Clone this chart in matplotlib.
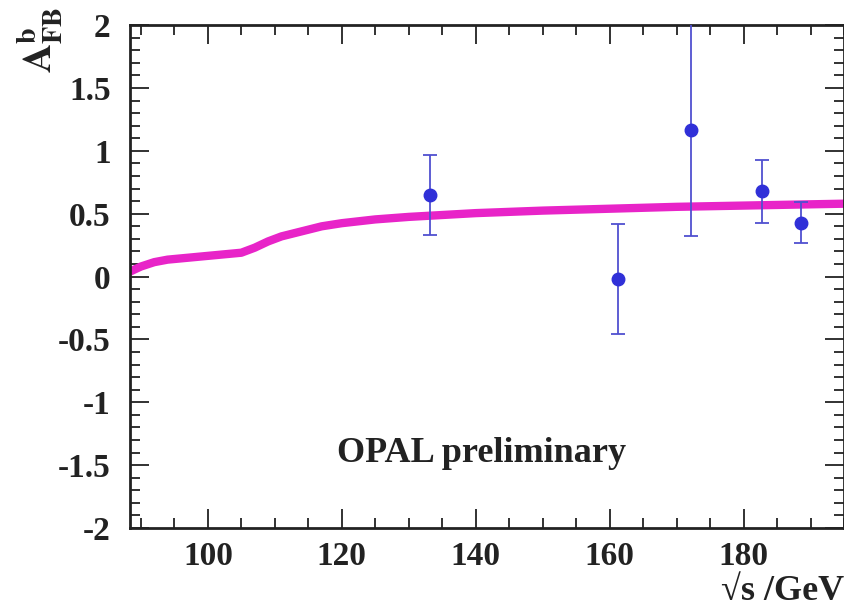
import numpy as np
import matplotlib
matplotlib.use("Agg")
import matplotlib.pyplot as plt
from matplotlib.ticker import MultipleLocator, FuncFormatter

plt.rcParams['font.family'] = 'Liberation Serif'
plt.rcParams['font.weight'] = 'bold'
plt.rcParams['mathtext.fontset'] = 'stix'
plt.rcParams['axes.unicode_minus'] = False

# Measured b-quark forward-backward asymmetry
sqrt_s = [133.2, 161.3, 172.1, 182.7, 188.6]
afb = [0.65, -0.02, 1.17, 0.68, 0.43]
afb_err = [0.32, 0.44, 0.85, 0.25, 0.16]

# Standard Model prediction
sm_x = [88.4, 90, 92, 94, 97, 100, 103, 105, 107, 109, 111, 114, 117, 120,
        125, 130, 140, 150, 160, 170, 180, 190, 195]
sm_y = [0.04, 0.08, 0.115, 0.135, 0.15, 0.165, 0.18, 0.19, 0.23, 0.28, 0.32,
        0.36, 0.40, 0.425, 0.455, 0.475, 0.505, 0.525, 0.54, 0.555, 0.565,
        0.575, 0.58]

fig = plt.figure(figsize=(8.45, 6.14), dpi=100)
ax = fig.add_axes([0.154, 0.140, 0.845, 0.819])

ax.plot(sm_x, sm_y, color='#e824c8', lw=6, solid_capstyle='butt', zorder=2)
ax.errorbar(sqrt_s, afb, yerr=afb_err, fmt='o', color='#3030d8', ms=9,
            ecolor='#5050d0', elinewidth=1.3, capsize=5, capthick=1.3, zorder=3)

ax.set_xlim(88.4, 195)
ax.set_ylim(-2, 2)
ax.xaxis.set_major_locator(MultipleLocator(20))
ax.xaxis.set_minor_locator(MultipleLocator(5))
ax.yaxis.set_major_locator(MultipleLocator(0.5))
ax.yaxis.set_minor_locator(MultipleLocator(0.1))
ax.yaxis.set_major_formatter(FuncFormatter(lambda v, p: '%g' % v))
ax.tick_params(which='both', direction='in', top=True, right=True,
               labelsize=24, width=1.3, color='#222222', labelcolor='#222222')
ax.tick_params(which='major', length=14)
ax.tick_params(which='minor', length=7)
ax.tick_params(axis='x', pad=9)
ax.tick_params(axis='y', pad=14)
for sp in ax.spines.values():
    sp.set_linewidth(2)
    sp.set_color('#222222')

ax.text(0.29, 0.149, 'OPAL preliminary', transform=ax.transAxes,
        fontsize=26, fontweight='bold', color='#222222', va='center')

fig.text(0.999, 0.037, '√s /GeV', ha='right', va='center', fontsize=26,
         fontweight='bold', color='#222222')
fig.text(0.048, 0.935, r'$\mathbf{A^{b}_{FB}}$', rotation=90, ha='center',
         va='center', fontsize=29, color='#222222')

fig.savefig('out.png', dpi=100)
